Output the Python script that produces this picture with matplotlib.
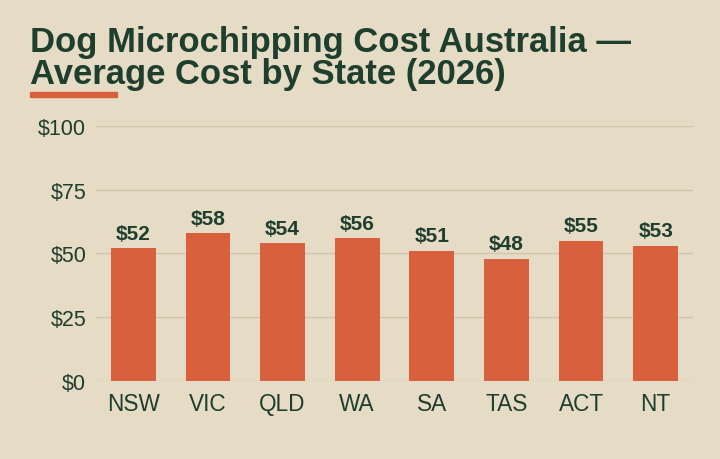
import matplotlib.pyplot as plt

states = ["NSW", "VIC", "QLD", "WA", "SA", "TAS", "ACT", "NT"]
costs = [52, 58, 54, 56, 51, 48, 55, 53]
y_ticks = [0, 25, 50, 75, 100]

bg = "#E6DBC5"
green = "#1E3F2E"
orange = "#D9603D"
grid = "#D0C5AC"

plt.rcParams["font.family"] = ["Liberation Sans", "DejaVu Sans"]

fig = plt.figure(figsize=(7.2, 4.6), dpi=100, facecolor=bg)
ax = fig.add_axes([0.1333, 0.1696, 0.8292, 0.5543], facecolor=bg)

bars = ax.bar(states, costs, width=0.6, color=orange, zorder=3)
for b, v in zip(bars, costs):
    ax.annotate(f"${v}", (b.get_x() + b.get_width() / 2, v),
                xytext=(0, 4), textcoords="offset points",
                ha="center", va="bottom", fontsize=15, fontweight="bold",
                color=green)

ax.set_ylim(0, 100)
ax.set_xlim(-0.5, len(states) - 0.5)
ax.set_yticks(y_ticks)
ax.set_yticklabels([f"${t}" for t in y_ticks])
ax.grid(axis="y", color=grid, linewidth=1, zorder=0)
ax.tick_params(axis="y", length=0, pad=7, labelsize=15.5, labelcolor=green)
ax.tick_params(axis="x", length=0, pad=8, labelsize=16.3, labelcolor=green)
for s in ax.spines.values():
    s.set_visible(False)

fig.text(30 / 720, 1 - 52 / 460, "Dog Microchipping Cost Australia \u2014",
         fontsize=24.9, fontweight="bold", color=green, va="baseline")
fig.text(30 / 720, 1 - 84 / 460, "Average Cost by State (2026)",
         fontsize=24.9, fontweight="bold", color=green, va="baseline")
fig.patches.append(plt.Rectangle((30 / 720, 1 - 98 / 460), 87 / 720, 5 / 460,
                                 transform=fig.transFigure, color=orange))

fig.savefig("out.png", dpi=100, facecolor=bg)
